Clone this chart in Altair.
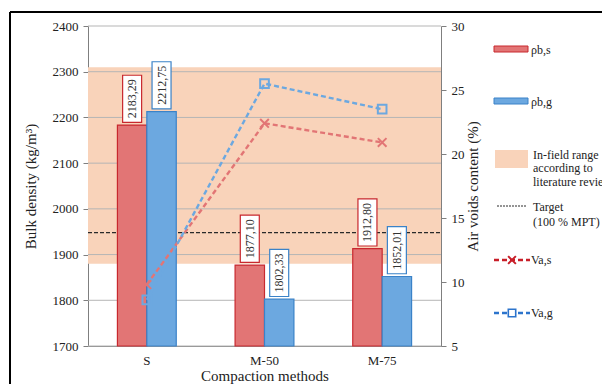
import altair as alt
import pandas as pd

categories = ["S", "M-50", "M-75"]
rho_s = [2183.29, 1877.10, 1912.80]
rho_g = [2212.75, 1802.33, 1852.01]
va_s = [9.8, 22.4, 20.9]
va_g = [8.6, 25.5, 23.5]
band_range = [1880, 2310]
target_density = 1948
left_ticks = [1700, 1800, 1900, 2000, 2100, 2200, 2300, 2400]
right_ticks = [5, 10, 15, 20, 25, 30]
bar_series = ["ρb,s", "ρb,g"]
line_series = ["Va,s", "Va,g"]
legend_texts = ["ρb,s", "ρb,g", "In-field range", "according to", "literature review",
                "Target", "(100 % MPT)", "Va,s", "Va,g"]

FONT = "'Liberation Serif', 'Times New Roman', 'DejaVu Serif', serif"
W, H = 353, 320
RED_FILL, BLUE_FILL = "#E27575", "#6CA8E0"
RED_STROKE, BLUE_STROKE = "#C8282E", "#3A82C8"
RED_LINE, BLUE_LINE = "#C81E28", "#2C74CC"
BAND = "#F9D3BA"

bars_df = pd.DataFrame({
    "method": categories * 2,
    "series": [bar_series[0]] * 3 + [bar_series[1]] * 3,
    "value": rho_s + rho_g,
})
bars_df["label"] = [f"{v:.2f}".replace(".", ",") for v in bars_df["value"]]
va_df = pd.DataFrame({
    "method": categories * 2,
    "series": [line_series[0]] * 3 + [line_series[1]] * 3,
    "value": va_s + va_g,
})
band_df = pd.DataFrame({"lo": [band_range[0]], "hi": [band_range[1]]})
target_df = pd.DataFrame({"t": [target_density]})
grid_df = pd.DataFrame({"t": left_ticks})
one = pd.DataFrame({"k": [0]})

x_enc = alt.X(
    "method:N", sort=categories,
    scale=alt.Scale(domain=categories, paddingInner=0.5, paddingOuter=0.25),
    axis=alt.Axis(title="Compaction methods", labelAngle=0, ticks=False,
                  domainColor="#7f7f7f", labelFont=FONT, labelFontSize=13,
                  labelColor="#222", labelPadding=8, titleFont=FONT,
                  titleFontSize=15, titleFontWeight="normal", titleColor="#222",
                  titlePadding=1),
)
xoff = alt.XOffset("series:N", sort=bar_series,
                   scale=alt.Scale(domain=bar_series, paddingInner=0, paddingOuter=0))

left_axis = alt.Axis(title="Bulk density (kg/m³)", values=left_ticks, grid=False,
                     format="d", tickSize=5, tickColor="#7f7f7f", domainColor="#7f7f7f",
                     labelFont=FONT, labelFontSize=13, labelColor="#222",
                     labelPadding=5, titleFont=FONT, titleFontSize=15,
                     titleFontWeight="normal", titleColor="#222", titlePadding=14)
left_scale = alt.Scale(domain=[1700, 2400], zero=False, nice=False)


def yL(field):
    return alt.Y(field, scale=left_scale, axis=left_axis)


fill_scale = alt.Scale(domain=bar_series, range=[RED_FILL, BLUE_FILL])
stroke_scale = alt.Scale(domain=bar_series, range=[RED_STROKE, BLUE_STROKE])

band = alt.Chart(band_df).mark_rect(color=BAND).encode(
    x=alt.value(0), x2=alt.value(W), y=yL("lo:Q"), y2="hi:Q")
grid = alt.Chart(grid_df).mark_rule(color="#b5b5b5", strokeWidth=1).encode(
    x=alt.value(0), x2=alt.value(W), y=yL("t:Q"))
target = alt.Chart(target_df).mark_rule(color="#2a2a2a", strokeWidth=1.2,
                                        strokeDash=[4, 2]).encode(
    x=alt.value(0), x2=alt.value(W), y=yL("t:Q"))
bars = alt.Chart(bars_df).mark_bar(strokeWidth=1.2).encode(
    x=x_enc, xOffset=xoff, y=yL("value:Q"), y2=alt.datum(1700),
    color=alt.Color("series:N", scale=fill_scale, legend=None),
    stroke=alt.Stroke("series:N", scale=stroke_scale, legend=None))
boxes = alt.Chart(bars_df).transform_calculate(
    lo="datum.value + 6", hi="datum.value + 109"
).mark_bar(width=19, fill="white", strokeWidth=1.2).encode(
    x=x_enc, xOffset=xoff, y=yL("lo:Q"), y2="hi:Q",
    stroke=alt.Stroke("series:N", scale=stroke_scale, legend=None))
texts = alt.Chart(bars_df).transform_calculate(
    mid="datum.value + 57.5"
).mark_text(angle=270, font=FONT, fontSize=12, color="#333",
            baseline="middle", align="center").encode(
    x=x_enc, xOffset=xoff, y=yL("mid:Q"), text="label:N")


# legend (decoration)
def ltext(txt, x, y):
    return alt.Chart(one).mark_text(font=FONT, fontSize=12, color="#222",
                                    align="left", baseline="middle").encode(
        x=alt.value(x), y=alt.value(y), text=alt.value(txt))


XMARK = "M-1,-1L1,1M-1,1L1,-1"
leg = [
    alt.Chart(one).mark_rect(fill=RED_FILL, stroke=RED_STROKE, strokeWidth=1).encode(
        x=alt.value(406), x2=alt.value(440), y=alt.value(20), y2=alt.value(26)),
    ltext(legend_texts[0], 443, 24),
    alt.Chart(one).mark_rect(fill=BLUE_FILL, stroke=BLUE_STROKE, strokeWidth=1).encode(
        x=alt.value(406), x2=alt.value(440), y=alt.value(72), y2=alt.value(78)),
    ltext(legend_texts[1], 443, 76),
    alt.Chart(one).mark_rect(fill=BAND).encode(
        x=alt.value(407), x2=alt.value(440), y=alt.value(124), y2=alt.value(142)),
    ltext(legend_texts[2], 445, 129),
    ltext(legend_texts[3], 445, 142),
    ltext(legend_texts[4], 445, 156),
    alt.Chart(one).mark_rule(color="#2a2a2a", strokeWidth=1, strokeDash=[2, 1]).encode(
        x=alt.value(409), x2=alt.value(439), y=alt.value(180)),
    ltext(legend_texts[5], 445, 181),
    ltext(legend_texts[6], 445, 196),
    alt.Chart(one).mark_rule(color=RED_LINE, strokeWidth=2.4, strokeDash=[5, 3]).encode(
        x=alt.value(406), x2=alt.value(442), y=alt.value(234)),
    alt.Chart(one).mark_point(shape=XMARK, stroke=RED_LINE,
                              strokeWidth=2, size=60, filled=False, opacity=1).encode(
        x=alt.value(424), y=alt.value(234)),
    ltext(legend_texts[7], 443, 234),
    alt.Chart(one).mark_rule(color=BLUE_LINE, strokeWidth=2.4, strokeDash=[5, 3]).encode(
        x=alt.value(406), x2=alt.value(442), y=alt.value(287)),
    alt.Chart(one).mark_point(shape="square", stroke=BLUE_LINE, fill="white",
                              strokeWidth=1.6, size=55, filled=True, opacity=1).encode(
        x=alt.value(424), y=alt.value(287)),
    ltext(legend_texts[8], 443, 287),
    alt.Chart(one).mark_rule(color="#000", strokeWidth=2).encode(
        x=alt.value(-78), y=alt.value(-14), y2=alt.value(370)),
    alt.Chart(one).mark_rule(color="#000", strokeWidth=2).encode(
        x=alt.value(-78), x2=alt.value(520), y=alt.value(-14)),
]

left_layer = alt.layer(band, grid, target, bars, boxes, texts, *leg)

right_axis = alt.Axis(title="Air voids content (%)", orient="right", values=right_ticks,
                      grid=False, tickSize=5, tickColor="#7f7f7f",
                      domainColor="#7f7f7f", labelFont=FONT, labelFontSize=13,
                      labelColor="#222", labelPadding=5, titleFont=FONT,
                      titleFontSize=15, titleFontWeight="normal", titleColor="#222",
                      titleAngle=270, titlePadding=16)
yR = alt.Y("value:Q", scale=alt.Scale(domain=[5, 30], zero=False, nice=False),
           axis=right_axis)
line_color = alt.Color("series:N", scale=alt.Scale(domain=line_series,
                                                   range=[RED_LINE, BLUE_LINE]),
                       legend=None)
lines = alt.Chart(va_df).mark_line(strokeDash=[5, 3], strokeWidth=2.4, opacity=1).encode(
    x=x_enc, y=yR, color=line_color, detail="series:N")
points = alt.Chart(va_df).mark_point(filled=False, strokeWidth=2, size=75,
                                     opacity=1).encode(
    x=x_enc, y=yR, color=line_color,
    shape=alt.Shape("series:N", scale=alt.Scale(domain=line_series,
                                                range=[XMARK, "square"]),
                    legend=None))
right_layer = alt.layer(lines, points)

chart = alt.layer(left_layer, right_layer).resolve_scale(y="independent").properties(
    width=W, height=H,
    autosize=alt.AutoSizeParams(type="none"),
    padding={"left": 80, "top": 18, "right": 161, "bottom": 38},
    background="white",
).configure_view(stroke=None)

chart.save("out.html", embed_options={"renderer": "svg", "actions": False})
